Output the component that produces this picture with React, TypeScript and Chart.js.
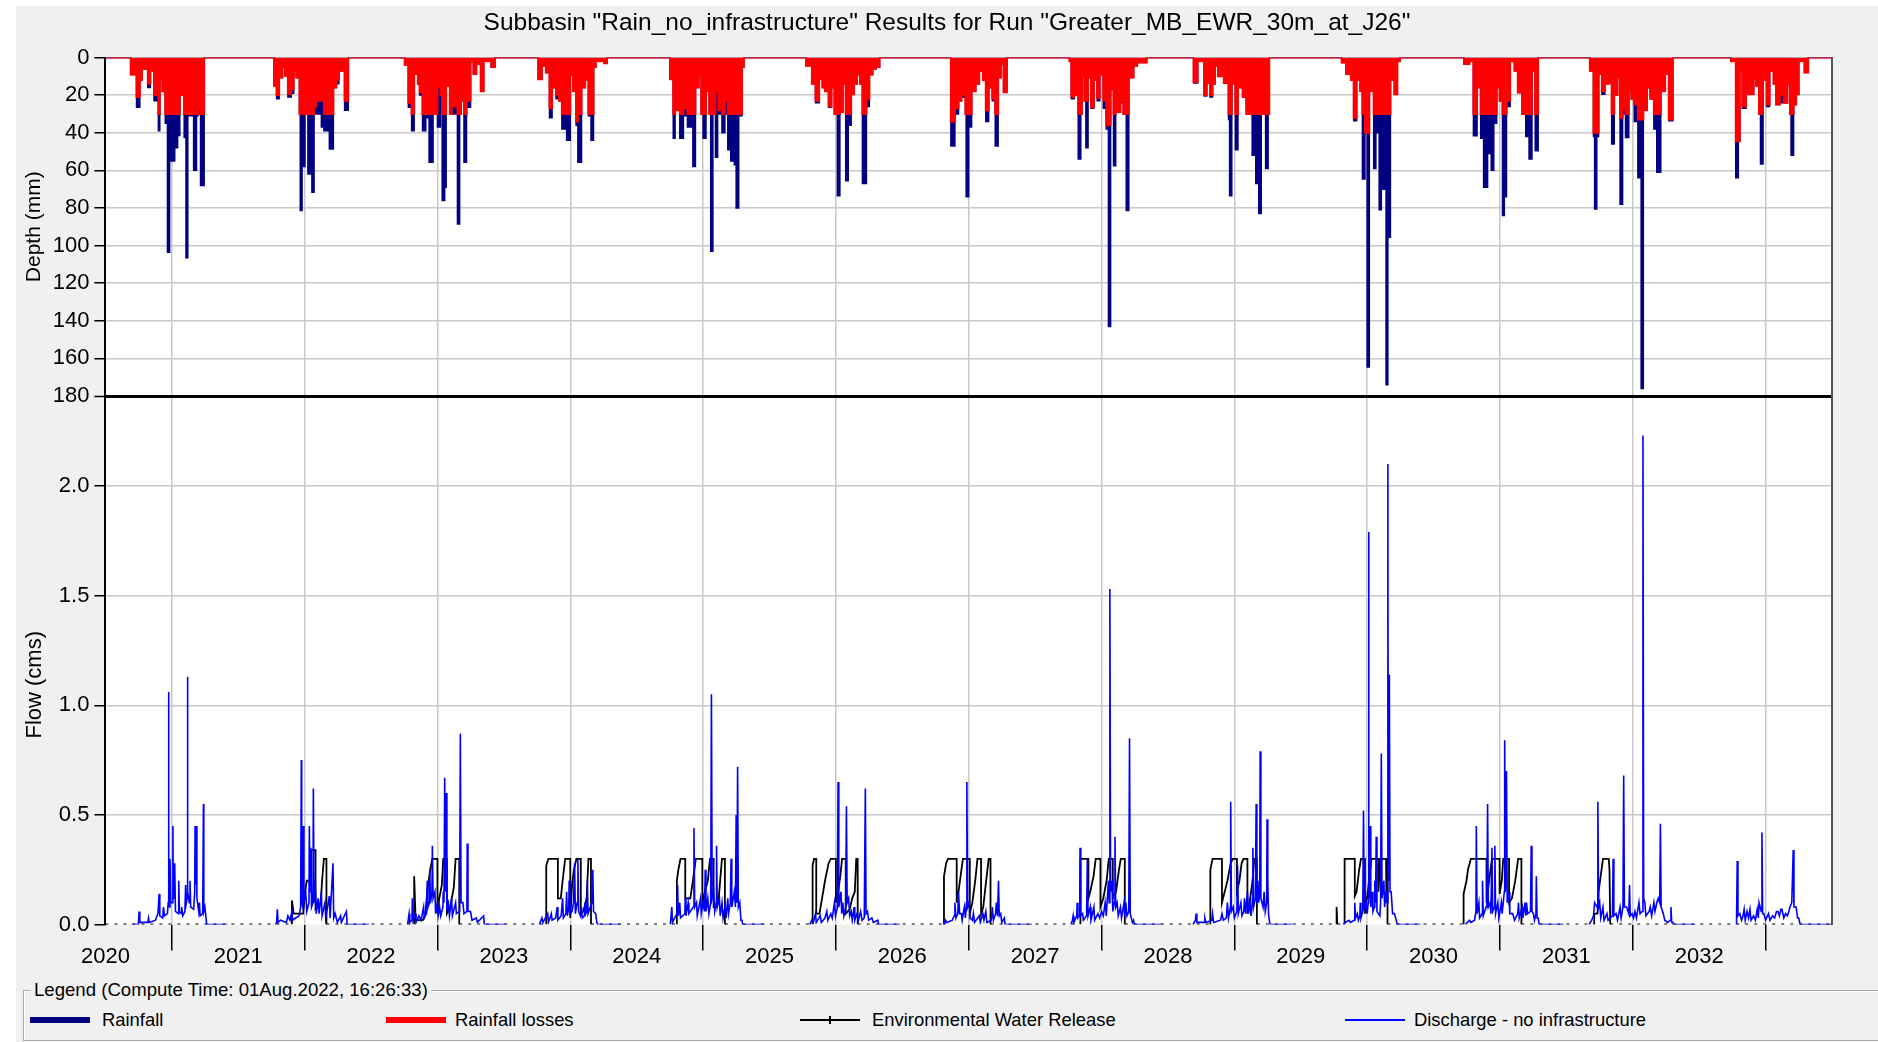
import React, { useEffect, useRef } from 'react';
import { Chart, registerables } from 'chart.js';

Chart.register(...registerables);

const FONT = '"Liberation Sans", Arial, sans-serif';
const TITLE = 'Subbasin "Rain_no_infrastructure" Results for Run "Greater_MB_EWR_30m_at_J26"';
const LEGEND_TITLE = 'Legend (Compute Time: 01Aug.2022, 16:26:33)';

// x axis: decimal years
const X_MIN = 2020.5;
const X_MAX = 2033.5;
const YEAR_BOUNDARIES = [2021, 2022, 2023, 2024, 2025, 2026, 2027, 2028, 2029, 2030, 2031, 2032, 2033];
const YEAR_LABELS = [2020, 2021, 2022, 2023, 2024, 2025, 2026, 2027, 2028, 2029, 2030, 2031, 2032];
const DEPTH_MAX = 180;
const FLOW_MAX = 2.41;

// Each season: [day offset from 1 Jan of the season's year, value]
// Rainfall depth (mm) – stepped values
const rain2021 = [[-113, 9], [-100, 8], [-97, 26.5], [-88, 12], [-82, 6], [-66, 16], [-59, 7], [-49, 23], [-41, 16], [-37, 39], [-33, 11.5], [-26, 18], [-18, 35], [-12, 103.5], [-6, 55], [8, 48], [16, 41.5], [22, 20], [34, 42.5], [39, 106.5], [44, 31], [60, 60], [68, 31], [72, 30], [79, 68], [89, 0]];
const rain2022 = [[-84, 15], [-77, 22], [-70, 10.6], [-61, 5], [-54, 9.7], [-46, 21], [-37, 19], [-30, 7], [-23, 10.6], [-14, 30], [-12, 81.4], [-7, 58], [1, 30], [9, 62], [17, 30], [20, 71.7], [26, 30], [46, 37], [53, 39], [68, 48.7], [79, 16], [87, 14], [94, 7], [105, 5], [110, 28], [120, 0]];
const rain2023 = [[-90, 4], [-80, 26.5], [-71, 39], [-64, 8.8], [-54, 14], [-49, 20], [-41, 39], [-32, 16], [-28, 32], [-23, 55.7], [-12, 22], [-7, 30], [0, 37], [8, 20], [13, 76], [20, 69], [24, 15], [34, 30], [55, 88.5], [61, 30], [65, 23], [73, 55.7], [80, 26.5], [91, 2], [99, 8.8], [107, 3.5], [119, 18], [127, 2], [148, 5], [158, 0]];
const rain2024 = [[-88, 11.5], [-78, 4.4], [-67, 8], [-57, 32], [-50, 16], [-39, 22], [-31, 23], [-23, 38], [-10, 44], [0, 9], [8, 18], [16, 36], [21, 55.7], [31, 16], [41, 12], [50, 31], [57, 44], [64, 5], [70, 2], [93, 3], [101, 0]];
const rain2025 = [[-91, 11.5], [-82, 43], [-77, 28], [-64, 43], [-54, 31], [-43, 37], [-28, 58], [-21, 16], [-12, 10], [-5, 30], [0, 43], [8, 18], [17, 30], [21, 103], [27, 30], [34, 53], [40, 30], [52, 40], [60, 30], [68, 49], [76, 55], [86, 57], [91, 80], [98, 31], [107, 5], [112, 0]];
const rain2026 = [[-82, 4.4], [-66, 14], [-56, 24], [-46, 11.5], [-37, 16], [-30, 18], [-20, 26.5], [-12, 16], [-4, 30], [4, 73.5], [11, 29], [19, 14], [27, 65.5], [34, 36], [42, 19.5], [50, 14], [58, 9], [66, 14], [73, 67], [84, 26], [92, 9], [101, 6], [110, 5], [120, 0]];
const rain2027 = [[-49, 47], [-38, 30], [-28, 23], [-20, 21], [-9, 30], [-7, 74], [0, 37], [8, 18], [19, 14], [29, 7], [39, 12], [47, 34], [55, 16], [65, 23], [73, 47], [81, 10.6], [89, 3.5], [96, 18.5], [105, 0]];
const rain2028 = [[-88, 2], [-83, 22], [-75, 20], [-64, 54], [-57, 30], [-54, 10], [-47, 23], [-43, 48], [-37, 10.6], [-29, 27], [-21, 12], [-12, 23], [-5, 9], [5, 27], [13, 38], [19, 143], [25, 17], [33, 57.5], [39, 29], [52, 24], [60, 30], [68, 81.4], [75, 10.6], [88, 4.4], [98, 2.7], [124, 0]];
const rain2029 = [[-112, 13.5], [-101, 2], [-83, 20.5], [-76, 13.5], [-67, 21], [-60, 14], [-53, 4.4], [-45, 10], [-29, 13.5], [-16, 33], [-13, 73.5], [-7, 14], [3, 49], [10, 16], [23, 21], [33, 30], [49, 52], [59, 67], [67, 83], [74, 30], [86, 59], [93, 30], [96, 0]];
const rain2030 = [[-70, 2.7], [-58, 8.8], [-45, 12], [-37, 33.6], [-29, 12], [-19, 18], [-13, 64.6], [-6, 40], [0, 164.6], [6, 18], [18, 59], [24, 40], [33, 81], [39, 70], [52, 174], [57, 95.6], [64, 12], [75, 19.5], [83, 2], [90, 0]];
const rain2031 = [[-99, 3.5], [-84, 2], [-73, 41.6], [-63, 16], [-53, 43], [-45, 69], [-34, 51], [-24, 60], [-17, 35], [-9, 16], [-1, 23], [7, 84], [12, 74], [18, 26], [28, 2], [40, 7], [49, 18.6], [57, 2], [61, 30], [71, 42], [80, 54], [88, 7], [97, 49.6], [105, 0]];
const rain2032 = [[-118, 7], [-108, 42], [-105, 80.5], [-99, 42], [-94, 8.8], [-85, 19.5], [-77, 14], [-66, 13.5], [-58, 46], [-51, 20], [-42, 10.6], [-35, 78], [-28, 30], [-20, 42.5], [-11, 18], [-4, 22], [4, 34], [14, 64], [23, 176], [29, 28], [39, 16], [48, 22], [58, 38], [66, 61], [77, 18], [89, 8.8], [99, 33.6], [110, 0]];
const rain2033 = [[-95, 2], [-82, 64], [-75, 44.5], [-71, 7], [-64, 27], [-54, 19.5], [-33, 11], [-26, 15], [-18, 30], [-14, 56.6], [-7, 12], [3, 26], [11, 7], [22, 14], [29, 25], [39, 24], [50, 24], [60, 14], [67, 30], [70, 52], [77, 25], [84, 19.5], [91, 2], [107, 8], [117, 0]];

// Rainfall losses (mm) – stepped values
const loss2021 = [[-113, 9], [-100, 8], [-97, 21], [-88, 12], [-82, 6], [-66, 14], [-59, 7], [-49, 20], [-41, 16], [-37, 30], [-33, 11.5], [-26, 18], [-18, 30], [22, 20], [34, 30], [72, 27], [79, 30], [89, 0]];
const loss2022 = [[-84, 15], [-77, 20], [-70, 10.6], [-61, 5], [-54, 9.7], [-46, 19.5], [-37, 17], [-30, 7], [-23, 10.6], [-14, 30], [1, 25], [6, 30], [26, 26], [32, 23], [53, 30], [79, 16], [87, 12], [94, 7], [105, 5], [110, 23], [120, 0]];
const loss2023 = [[-90, 4], [-80, 24], [-71, 30], [-64, 8.8], [-54, 14], [-49, 18.5], [-41, 30], [-32, 16], [-28, 30], [-12, 22], [-7, 30], [0, 16], [8, 20], [13, 30], [24, 15], [34, 30], [39, 26], [55, 30], [65, 23], [73, 30], [80, 23], [91, 2], [99, 8.8], [107, 3.5], [119, 18], [127, 2], [148, 5], [158, 0]];
const loss2024 = [[-88, 11.5], [-78, 4.4], [-67, 8], [-57, 27], [-50, 16], [-39, 19.5], [-31, 23], [-23, 30], [0, 9], [8, 18], [16, 34], [21, 30], [31, 16], [41, 12], [50, 30], [64, 5], [70, 2], [93, 3], [101, 0]];
const loss2025 = [[-91, 11.5], [-82, 30], [-77, 28], [-64, 30], [-54, 27], [-43, 30], [-21, 16], [-12, 10], [-5, 30], [8, 18], [17, 30], [34, 18], [42, 28], [52, 30], [60, 23], [68, 30], [107, 5], [112, 0]];
const loss2026 = [[-82, 4.4], [-66, 14], [-56, 23], [-46, 11.5], [-37, 16], [-30, 18], [-20, 26], [-12, 16], [-4, 30], [11, 29], [19, 14], [27, 30], [42, 19.5], [50, 14], [58, 9], [66, 14], [73, 30], [84, 22], [92, 9], [101, 6], [110, 5], [120, 0]];
const loss2027 = [[-49, 34], [-38, 27], [-28, 23], [-20, 20], [-9, 30], [8, 18], [19, 14], [29, 7], [39, 12], [47, 28], [55, 16], [65, 22], [73, 30], [81, 10.6], [89, 3.5], [96, 18.5], [105, 0]];
const loss2028 = [[-88, 2], [-83, 21], [-75, 20], [-64, 30], [-54, 10], [-47, 23], [-37, 10.6], [-29, 26.5], [-21, 12], [-12, 21.5], [-5, 9], [5, 23], [13, 36], [25, 17], [33, 30], [39, 29], [52, 23], [60, 30], [75, 10.6], [88, 4.4], [98, 2.7], [124, 0]];
const loss2029 = [[-112, 13], [-101, 2], [-83, 20], [-76, 13.5], [-67, 20], [-60, 14], [-53, 4.4], [-45, 10], [-29, 13.5], [-16, 30], [-7, 14], [3, 30], [10, 16], [23, 21], [33, 30], [96, 0]];
const loss2030 = [[-70, 2.7], [-58, 8.8], [-45, 12], [-37, 32], [-29, 12], [-19, 18], [-13, 30], [-6, 40], [6, 18], [18, 30], [57, 30], [64, 12], [75, 19.5], [83, 2], [90, 0]];
const loss2031 = [[-99, 3.5], [-84, 2], [-73, 30], [-63, 16], [-53, 30], [-17, 30], [-9, 16], [-1, 23], [7, 30], [18, 23], [28, 2], [40, 7], [49, 18.6], [57, 2], [61, 30], [88, 7], [97, 30], [105, 0]];
const loss2032 = [[-118, 7], [-108, 40], [-94, 8.8], [-85, 18], [-77, 14], [-66, 13.5], [-58, 30], [-51, 20], [-42, 10.6], [-35, 32], [-28, 27], [-20, 30], [-11, 18], [-4, 22], [4, 25], [14, 33], [29, 28], [39, 16], [48, 22], [58, 30], [77, 18], [89, 8.8], [99, 33], [110, 0]];
const loss2033 = [[-95, 2], [-82, 44.5], [-71, 7], [-64, 26], [-54, 19.5], [-33, 11], [-26, 15], [-18, 30], [-7, 12], [3, 25], [11, 7], [22, 14], [29, 25], [39, 20], [50, 24], [60, 14], [67, 30], [77, 25], [84, 19.5], [91, 2], [107, 8], [117, 0]];

// Discharge - no infrastructure (cms)
const flow2021 = [[-110, 0], [-92, 0], [-90, 0.06], [-88, 0.01], [-66, 0.01], [-64, 0.03], [-62, 0.01], [-45, 0.02], [-38, 0.05], [-35, 0.14], [-33, 0.04], [-25, 0.03], [-23, 0.08], [-20, 0.04], [-12, 0.05], [-10, 0.1], [-9, 1.06], [-8, 0.12], [-6, 0.08], [-5, 0.3], [-3, 0.1], [2, 0.1], [3, 0.45], [4, 0.15], [7, 0.12], [8, 0.28], [10, 0.06], [18, 0.05], [19, 0.2], [21, 0.06], [26, 0.05], [27, 0.08], [30, 0.04], [36, 0.06], [38, 0.18], [40, 0.1], [42, 0.12], [43, 1.13], [44, 0.15], [48, 0.1], [50, 0.2], [52, 0.08], [60, 0.07], [63, 0.15], [64, 0.45], [66, 0.18], [68, 0.45], [69, 0.12], [74, 0.06], [76, 0.1], [78, 0.04], [85, 0.05], [87, 0.55], [88, 0.06], [91, 0.08], [96, 0], [153, 0]];
const flow2022 = [[-80, 0], [-77, 0.01], [-75, 0.07], [-73, 0.01], [-66, 0.02], [-50, 0.01], [-46, 0.04], [-40, 0.02], [-35, 0.06], [-33, 0.02], [-25, 0.03], [-15, 0.04], [-11, 0.08], [-9, 0.75], [-8, 0.1], [-5, 0.08], [-4, 0.45], [-2, 0.1], [3, 0.15], [6, 0.06], [12, 0.1], [13, 0.45], [15, 0.15], [17, 0.35], [19, 0.08], [23, 0.1], [24, 0.62], [26, 0.1], [29, 0.2], [32, 0.05], [37, 0.12], [40, 0.05], [46, 0.15], [48, 0.04], [56, 0.1], [58, 0.03], [68, 0.13], [70, 0.03], [78, 0.28], [80, 0.03], [84, 0.05], [90, 0.01], [99, 0.04], [101, 0.01], [115, 0.06], [117, 0], [177, 0]];
const flow2023 = [[-82, 0], [-78, 0.05], [-76, 0.01], [-70, 0.02], [-69, 0.12], [-67, 0.02], [-61, 0.05], [-59, 0.01], [-51, 0.04], [-45, 0.02], [-38, 0.08], [-36, 0.03], [-30, 0.05], [-28, 0.2], [-26, 0.08], [-22, 0.1], [-21, 0.25], [-19, 0.1], [-15, 0.15], [-14, 0.36], [-12, 0.12], [-7, 0.15], [-5, 0.05], [0, 0.1], [2, 0.04], [6, 0.08], [9, 0.04], [15, 0.08], [16, 0.15], [18, 0.1], [20, 0.67], [22, 0.15], [24, 0.6], [26, 0.08], [30, 0.1], [33, 0.04], [39, 0.12], [41, 0.04], [50, 0.1], [52, 0.05], [61, 0.06], [63, 0.87], [65, 0.1], [70, 0.1], [73, 0.05], [81, 0.06], [82, 0.37], [84, 0.06], [91, 0.06], [95, 0.02], [107, 0.03], [110, 0.01], [127, 0.04], [129, 0], [189, 0]];
const flow2024 = [[-85, 0], [-78, 0.03], [-75, 0.01], [-62, 0.05], [-60, 0.01], [-52, 0.05], [-50, 0.02], [-40, 0.03], [-36, 0.08], [-34, 0.02], [-25, 0.04], [-21, 0.12], [-19, 0.03], [-12, 0.05], [-10, 0.15], [-8, 0.04], [-4, 0.08], [-3, 0.2], [-1, 0.05], [5, 0.06], [9, 0.1], [12, 0.28], [14, 0.05], [19, 0.1], [21, 0.3], [23, 0.06], [28, 0.04], [31, 0.08], [33, 0.03], [39, 0.04], [41, 0.1], [43, 0.05], [46, 0.06], [47, 0.2], [49, 0.05], [55, 0.08], [60, 0.1], [62, 0.25], [64, 0.06], [70, 0.05], [73, 0.01], [76, 0], [140, 0]];
const flow2025 = [[-90, 0], [-86, 0.08], [-84, 0.01], [-72, 0.05], [-70, 0.18], [-68, 0.04], [-64, 0.1], [-62, 0.03], [-50, 0.05], [-49, 0.12], [-47, 0.04], [-41, 0.1], [-39, 0.05], [-27, 0.08], [-25, 0.44], [-23, 0.08], [-18, 0.1], [-16, 0.04], [-7, 0.12], [-5, 0.05], [0, 0.1], [4, 0.06], [6, 0.25], [8, 0.06], [13, 0.12], [16, 0.05], [21, 0.1], [23, 1.05], [25, 0.12], [29, 0.15], [32, 0.06], [36, 0.1], [37, 0.36], [39, 0.08], [45, 0.12], [47, 0.04], [52, 0.1], [55, 0.03], [60, 0.08], [63, 0.03], [68, 0.12], [70, 0.05], [75, 0.1], [77, 0.3], [79, 0.08], [86, 0.15], [89, 0.08], [91, 0.5], [93, 0.1], [95, 0.72], [97, 0.08], [101, 0.1], [104, 0.02], [107, 0.02], [109, 0], [169, 0]];
const flow2026 = [[-72, 0], [-66, 0.02], [-62, 0.01], [-56, 0.05], [-54, 0.01], [-43, 0.04], [-40, 0.01], [-30, 0.03], [-25, 0.06], [-22, 0.02], [-14, 0.05], [-10, 0.03], [-4, 0.1], [-1, 0.04], [4, 0.08], [6, 0.65], [8, 0.08], [14, 0.15], [16, 0.05], [19, 0.1], [22, 0.04], [27, 0.08], [29, 0.54], [31, 0.1], [35, 0.12], [38, 0.04], [42, 0.06], [45, 0.02], [50, 0.08], [52, 0.02], [58, 0.05], [62, 0.02], [68, 0.06], [72, 0.02], [78, 0.03], [81, 0.62], [83, 0.05], [87, 0.06], [90, 0.02], [99, 0.03], [103, 0.01], [115, 0.02], [118, 0], [177, 0]];
const flow2027 = [[-66, 0], [-64, 0.02], [-60, 0.01], [-45, 0.02], [-40, 0.04], [-38, 0.1], [-35, 0.03], [-30, 0.05], [-28, 0.15], [-25, 0.05], [-20, 0.05], [-18, 0.02], [-12, 0.08], [-9, 0.03], [-6, 0.1], [-5, 0.65], [-3, 0.08], [1, 0.1], [4, 0.03], [10, 0.02], [13, 0.05], [16, 0.01], [29, 0.04], [32, 0.01], [39, 0.05], [42, 0.02], [47, 0.06], [50, 0.01], [62, 0.02], [65, 0.08], [68, 0.02], [74, 0.05], [76, 0.1], [79, 0.04], [82, 0.2], [84, 0.04], [88, 0.05], [91, 0.01], [98, 0.03], [100, 0], [174, 0]];
const flow2028 = [[-84, 0], [-80, 0.02], [-78, 0.04], [-76, 0.01], [-68, 0.04], [-67, 0.1], [-65, 0.03], [-60, 0.04], [-59, 0.35], [-57, 0.04], [-52, 0.05], [-50, 0.02], [-41, 0.04], [-39, 0.3], [-37, 0.04], [-31, 0.08], [-29, 0.02], [-21, 0.08], [-19, 0.02], [-10, 0.05], [-5, 0.03], [0, 0.06], [5, 0.04], [10, 0.1], [13, 0.04], [19, 0.2], [21, 0.1], [23, 1.53], [25, 0.15], [29, 0.2], [31, 0.06], [35, 0.1], [37, 0.4], [39, 0.08], [43, 0.1], [46, 0.04], [52, 0.08], [55, 0.03], [62, 0.1], [64, 0.04], [67, 0.1], [70, 0.04], [75, 0.06], [77, 0.85], [79, 0.05], [81, 0.05], [85, 0.01], [88, 0.02], [90, 0], [166, 0]];
const flow2029 = [[-114, 0], [-107, 0.02], [-105, 0.05], [-103, 0.01], [-83, 0.01], [-81, 0.03], [-78, 0.01], [-62, 0.02], [-60, 0.05], [-57, 0.01], [-38, 0.02], [-34, 0.05], [-30, 0.02], [-22, 0.03], [-19, 0.1], [-16, 0.03], [-11, 0.08], [-10, 0.56], [-8, 0.06], [-3, 0.08], [0, 0.03], [7, 0.06], [9, 0.27], [11, 0.05], [18, 0.1], [21, 0.04], [26, 0.06], [28, 0.12], [31, 0.05], [36, 0.15], [39, 0.05], [43, 0.1], [46, 0.04], [50, 0.12], [51, 0.35], [53, 0.08], [58, 0.12], [60, 0.55], [62, 0.1], [65, 0.2], [67, 0.1], [70, 0.15], [71, 0.79], [73, 0.12], [79, 0.08], [82, 0.15], [85, 0.06], [89, 0.1], [90, 0.48], [92, 0.2], [94, 0.05], [97, 0.01], [100, 0], [160, 0]];
const flow2030 = [[-66, 0], [-60, 0.01], [-50, 0.02], [-46, 0.01], [-36, 0.02], [-34, 0.1], [-32, 0.03], [-27, 0.05], [-24, 0.02], [-20, 0.04], [-19, 0.1], [-17, 0.03], [-12, 0.06], [-10, 0.52], [-8, 0.08], [-3, 0.1], [0, 0.05], [3, 0.1], [4, 1.79], [5, 0.2], [7, 0.12], [8, 0.45], [10, 0.08], [14, 0.15], [16, 0.06], [20, 0.08], [21, 0.2], [23, 0.1], [25, 0.4], [27, 0.06], [31, 0.05], [35, 0.04], [37, 0.1], [39, 0.78], [41, 0.12], [46, 0.2], [48, 0.08], [52, 0.15], [55, 0.1], [57, 2.1], [58, 0.3], [60, 0.2], [61, 1.14], [63, 0.15], [66, 0.15], [70, 0.05], [75, 0.05], [80, 0.02], [83, 0], [147, 0]];
const flow2031 = [[-95, 0], [-84, 0.02], [-80, 0.01], [-70, 0.02], [-66, 0.06], [-65, 0.45], [-63, 0.05], [-58, 0.1], [-56, 0.03], [-49, 0.05], [-48, 0.2], [-46, 0.04], [-38, 0.08], [-36, 0.1], [-34, 0.55], [-32, 0.08], [-27, 0.1], [-25, 0.05], [-22, 0.35], [-20, 0.06], [-15, 0.08], [-14, 0.36], [-12, 0.05], [-6, 0.1], [-3, 0.03], [4, 0.1], [6, 0.05], [12, 0.15], [13, 0.84], [15, 0.15], [18, 0.7], [20, 0.1], [25, 0.15], [27, 0.05], [35, 0.05], [40, 0.02], [49, 0.05], [51, 0.1], [53, 0.03], [61, 0.08], [63, 0.03], [69, 0.1], [71, 0.04], [73, 0.1], [76, 0.05], [84, 0.06], [86, 0.36], [88, 0.06], [92, 0.05], [95, 0.02], [99, 0.05], [100, 0.22], [102, 0.03], [105, 0.03], [108, 0], [175, 0]];
const flow2032 = [[-120, 0], [-113, 0.02], [-108, 0.04], [-105, 0.1], [-98, 0.08], [-96, 0.56], [-94, 0.08], [-91, 0.1], [-88, 0.03], [-82, 0.08], [-79, 0.02], [-71, 0.05], [-68, 0.02], [-56, 0.04], [-54, 0.3], [-52, 0.04], [-46, 0.05], [-42, 0.02], [-35, 0.08], [-32, 0.03], [-27, 0.08], [-25, 0.68], [-23, 0.08], [-17, 0.08], [-11, 0.05], [-9, 0.18], [-7, 0.04], [-2, 0.05], [2, 0.03], [6, 0.06], [10, 0.03], [17, 0.1], [20, 0.05], [26, 0.06], [28, 2.23], [30, 0.12], [33, 0.1], [36, 0.04], [45, 0.06], [48, 0.08], [52, 0.04], [58, 0.1], [61, 0.06], [66, 0.1], [70, 0.12], [74, 0.1], [76, 0.46], [78, 0.08], [84, 0.05], [88, 0.02], [96, 0.01], [103, 0.02], [105, 0.08], [107, 0.01], [110, 0.01], [112, 0], [172, 0]];
const flow2033 = [[-80, 0], [-78, 0.29], [-76, 0.04], [-71, 0.05], [-66, 0.02], [-62, 0.04], [-59, 0.07], [-56, 0.02], [-51, 0.06], [-47, 0.03], [-43, 0.07], [-40, 0.02], [-33, 0.04], [-28, 0.02], [-23, 0.07], [-20, 0.03], [-18, 0.1], [-12, 0.06], [-10, 0.42], [-8, 0.05], [-5, 0.05], [0, 0.02], [8, 0.05], [12, 0.02], [19, 0.04], [25, 0.03], [30, 0.06], [34, 0.06], [38, 0.04], [42, 0.07], [45, 0.07], [50, 0.03], [55, 0.05], [60, 0.04], [64, 0.06], [67, 0.08], [72, 0.1], [76, 0.34], [78, 0.08], [84, 0.08], [88, 0.03], [91, 0.03], [94, 0.01], [96, 0], [181, 0]];

// Environmental Water Release (cms)
const env2022 = [[-35, 0], [-35, 0.11], [-30, 0.05], [-4, 0.05], [1, 0.15], [6, 0.2], [17, 0.2], [18, 0.34], [30, 0.34], [30, 0.07], [44, 0.09], [48, 0.2], [53, 0.3], [60, 0.3], [60, 0]];
const env2023 = [[-64, 0], [-64, 0.22], [-60, 0.02], [-40, 0.02], [-33, 0.05], [-28, 0.15], [-20, 0.25], [-14, 0.3], [0, 0.3], [0, 0.05], [5, 0.12], [12, 0.18], [16, 0.3], [26, 0.3], [26, 0.05], [35, 0.08], [45, 0.17], [50, 0.3], [60, 0.3], [60, 0]];
const env2024 = [[-66, 0], [-66, 0.27], [-60, 0.3], [-34, 0.3], [-34, 0.12], [-26, 0.12], [-21, 0.2], [-14, 0.3], [0, 0.3], [0, 0.03], [5, 0.18], [10, 0.25], [17, 0.3], [29, 0.3], [29, 0.05], [36, 0.06], [45, 0.12], [50, 0.3], [57, 0.3], [57, 0]];
const env2025 = [[-72, 0], [-72, 0.2], [-68, 0.25], [-62, 0.3], [-49, 0.3], [-49, 0.12], [-35, 0.12], [-28, 0.2], [-20, 0.3], [-2, 0.3], [-2, 0.1], [5, 0.15], [13, 0.2], [19, 0.3], [29, 0.3], [29, 0.08], [36, 0.08], [42, 0.1], [46, 0.18], [52, 0.3], [60, 0.3], [60, 0]];
const env2026 = [[-64, 0], [-64, 0.27], [-60, 0.3], [-54, 0.3], [-54, 0.05], [-45, 0.05], [-40, 0.1], [-30, 0.2], [-20, 0.28], [-14, 0.3], [0, 0.3], [0, 0.1], [6, 0.15], [12, 0.22], [17, 0.3], [27, 0.3], [27, 0.05], [38, 0.07], [45, 0.12], [52, 0.15], [56, 0.3], [60, 0.3], [60, 0]];
const env2027 = [[-70, 0], [-68, 0.22], [-62, 0.28], [-57, 0.3], [-33, 0.3], [-33, 0.1], [-28, 0.15], [-20, 0.25], [-16, 0.3], [3, 0.3], [3, 0.05], [10, 0.1], [18, 0.2], [24, 0.3], [34, 0.3], [34, 0.05], [40, 0.08], [48, 0.2], [55, 0.3], [60, 0.3], [60, 0]];
const env2028 = [[-58, 0], [-58, 0.3], [-36, 0.3], [-36, 0.12], [-31, 0.15], [-22, 0.22], [-16, 0.3], [-3, 0.3], [-3, 0.08], [5, 0.12], [14, 0.2], [20, 0.3], [31, 0.3], [31, 0.12], [40, 0.15], [48, 0.25], [53, 0.3], [64, 0.3], [64, 0]];
const env2029 = [[-66, 0], [-66, 0.25], [-60, 0.3], [-34, 0.3], [-34, 0.1], [-28, 0.14], [-19, 0.2], [-10, 0.28], [-4, 0.3], [7, 0.3], [7, 0.15], [14, 0.2], [20, 0.28], [25, 0.3], [36, 0.3], [36, 0.05], [42, 0.1], [50, 0.2], [55, 0.3], [62, 0.3], [62, 0]];
const env2030 = [[-84, 0], [-84, 0.08], [-82, 0], [-62, 0], [-62, 0.3], [-34, 0.3], [-34, 0.13], [-29, 0.15], [-22, 0.25], [-17, 0.3], [-6, 0.3], [-6, 0.05], [2, 0.15], [8, 0.25], [12, 0.3], [31, 0.3], [31, 0.15], [36, 0.3], [52, 0.3], [52, 0.1], [54, 0.3], [56, 0.3], [56, 0]];
const env2031 = [[-100, 0], [-100, 0.14], [-92, 0.2], [-88, 0.25], [-80, 0.3], [-37, 0.3], [-37, 0.1], [-30, 0.2], [-22, 0.3], [-1, 0.3], [-1, 0.14], [5, 0.2], [9, 0.3], [25, 0.3], [25, 0.1], [33, 0.12], [42, 0.2], [50, 0.3], [59, 0.3], [59, 0]];
const env2032 = [[-106, 0], [-106, 0.05], [-97, 0.05], [-94, 0.15], [-90, 0.2], [-86, 0.25], [-82, 0.3], [-66, 0.3], [-64, 0.25], [-62, 0]];

const RAIN = [[2021, rain2021], [2022, rain2022], [2023, rain2023], [2024, rain2024], [2025, rain2025], [2026, rain2026], [2027, rain2027], [2028, rain2028], [2029, rain2029], [2030, rain2030], [2031, rain2031], [2032, rain2032], [2033, rain2033]];
const LOSS = [[2021, loss2021], [2022, loss2022], [2023, loss2023], [2024, loss2024], [2025, loss2025], [2026, loss2026], [2027, loss2027], [2028, loss2028], [2029, loss2029], [2030, loss2030], [2031, loss2031], [2032, loss2032], [2033, loss2033]];
const FLOW = [[2021, flow2021], [2022, flow2022], [2023, flow2023], [2024, flow2024], [2025, flow2025], [2026, flow2026], [2027, flow2027], [2028, flow2028], [2029, flow2029], [2030, flow2030], [2031, flow2031], [2032, flow2032], [2033, flow2033]];
const ENV = [[2022, env2022], [2023, env2023], [2024, env2024], [2025, env2025], [2026, env2026], [2027, env2027], [2028, env2028], [2029, env2029], [2030, env2030], [2031, env2031], [2032, env2032]];

const DAYS_PER_YEAR = 365.25;

function toXY(year: number, arr: number[][]) {
  return arr.map(([d, v]) => ({ x: year + d / DAYS_PER_YEAR, y: v }));
}

function continuousSeries(list: any[]) {
  const pts: any[] = [{ x: X_MIN, y: 0 }];
  for (const [year, arr] of list) pts.push(...toXY(year, arr));
  pts.push({ x: X_MAX, y: 0 });
  return pts;
}

function gappedSeries(list: any[]) {
  const pts: any[] = [];
  for (const [year, arr] of list) {
    const seg = toXY(year, arr);
    if (pts.length) pts.push({ x: (pts[pts.length - 1].x + seg[0].x) / 2, y: null });
    pts.push(...seg);
  }
  return pts;
}

const isYear = (v: number) => Math.abs(v - Math.round(v)) < 1e-6;

const plotBackground = {
  id: 'plotBackground',
  beforeDraw(chart: any) {
    const { ctx, chartArea: a } = chart;
    ctx.save();
    ctx.fillStyle = '#ffffff';
    ctx.fillRect(a.left, a.top, a.width, a.height);
    ctx.restore();
  },
};

const CANVAS_W = 1862;
const CANVAS_H = 960;
const AXIS_W = 89.4;
const RIGHT_W = 46;
const X_AXIS_H = 41.4;

export default function App() {
  const ref = useRef<HTMLCanvasElement>(null);

  useEffect(() => {
    document.body.style.margin = '0';
    const canvas = ref.current;
    if (!canvas) return;
    const tickFont = { family: FONT, size: 22 };
    const chart = new Chart(canvas, {
      type: 'line',
      data: {
        datasets: [
          {
            label: 'Rainfall losses',
            data: continuousSeries(LOSS),
            yAxisID: 'yDepth',
            stepped: true,
            fill: 'origin',
            borderColor: '#ff0000',
            backgroundColor: '#ff0000',
            borderWidth: 2,
            pointRadius: 0,
            order: 1,
          },
          {
            label: 'Rainfall',
            data: continuousSeries(RAIN),
            yAxisID: 'yDepth',
            stepped: true,
            fill: 'origin',
            borderColor: '#000080',
            backgroundColor: '#000080',
            borderWidth: 1.5,
            pointRadius: 0,
            order: 2,
          },
          {
            label: 'Discharge - no infrastructure',
            data: gappedSeries(FLOW),
            yAxisID: 'yFlow',
            borderColor: '#0000ff',
            backgroundColor: '#0000ff',
            borderWidth: 1.6,
            pointRadius: 0,
            spanGaps: false,
            fill: false,
            order: 3,
          },
          {
            label: 'Environmental Water Release',
            data: continuousSeries(ENV),
            yAxisID: 'yFlow',
            borderColor: '#000000',
            backgroundColor: '#000000',
            borderWidth: 1.8,
            pointRadius: 0,
            fill: false,
            order: 4,
            segment: {
              borderDash: (c: any) => (c.p0.parsed.y === 0 && c.p1.parsed.y === 0 ? [3, 6] : undefined),
              borderWidth: (c: any) => (c.p0.parsed.y === 0 && c.p1.parsed.y === 0 ? 2.4 : undefined),
            },
          },
        ],
      },
      plugins: [plotBackground],
      options: {
        animation: false,
        responsive: false,
        devicePixelRatio: 1,
        layout: { padding: { left: 0, right: 0, top: 0, bottom: 0 } },
        plugins: {
          legend: { display: false },
          tooltip: { enabled: false },
          title: {
            display: true,
            text: TITLE,
            color: '#000',
            font: { family: FONT, size: 24.5, weight: 'normal' },
            padding: { top: 2.3, bottom: 19.8 },
          },
        },
        scales: {
          x: {
            type: 'linear',
            min: X_MIN,
            max: X_MAX,
            afterBuildTicks: (axis: any) => {
              const vals = [...YEAR_LABELS.map((y) => y + 0.5), ...YEAR_BOUNDARIES].sort((a, b) => a - b);
              axis.ticks = vals.map((value) => ({ value }));
            },
            afterFit: (axis: any) => {
              axis.height = X_AXIS_H;
            },
            ticks: {
              autoSkip: false,
              maxRotation: 0,
              minRotation: 0,
              padding: -7,
              color: '#000',
              font: tickFont,
              callback: (v: any) => {
                const n = Number(v);
                return isYear(n) ? '' : String(Math.floor(n));
              },
            },
            grid: {
              color: (c: any) => (c.tick && isYear(c.tick.value) ? '#c8c8c8' : 'rgba(0,0,0,0)'),
              tickColor: (c: any) => (c.tick && isYear(c.tick.value) ? '#000' : 'rgba(0,0,0,0)'),
              lineWidth: 1.5,
              tickWidth: 1.5,
              tickLength: 26,
            },
            border: { display: false },
          },
          yFlow: {
            type: 'linear',
            position: 'left',
            stack: 'panels',
            stackWeight: 528.6,
            min: 0,
            max: FLOW_MAX,
            afterFit: (axis: any) => {
              axis.width = AXIS_W;
            },
            ticks: {
              stepSize: 0.5,
              autoSkip: false,
              includeBounds: false,
              padding: 5,
              color: '#000',
              font: tickFont,
              callback: (v: any) => Number(v).toFixed(1),
            },
            grid: {
              color: (c: any) => (c.tick && c.tick.value === 0 ? 'rgba(0,0,0,0)' : '#c8c8c8'),
              lineWidth: 1.5,
              tickColor: '#000',
              tickLength: 11,
              tickWidth: 1.5,
            },
            border: { color: '#000', width: 2 },
            title: {
              display: true,
              text: 'Flow (cms)\u00a0\u00a0\u00a0\u00a0\u00a0\u00a0\u00a0\u00a0',
              color: '#000',
              font: { family: FONT, size: 22 },
              padding: { top: 6, bottom: 0 },
            },
          },
          yDepth: {
            type: 'linear',
            position: 'left',
            stack: 'panels',
            stackWeight: 338.5,
            reverse: true,
            min: 0,
            max: DEPTH_MAX,
            afterFit: (axis: any) => {
              axis.width = AXIS_W;
            },
            ticks: {
              stepSize: 20,
              autoSkip: false,
              padding: 5,
              color: '#000',
              font: tickFont,
            },
            grid: {
              color: (c: any) => (c.tick && c.tick.value === DEPTH_MAX ? '#000' : '#c8c8c8'),
              lineWidth: (c: any) => (c.tick && c.tick.value === DEPTH_MAX ? 3 : 1.5),
              tickColor: '#000',
              tickLength: 11,
              tickWidth: 1.5,
            },
            border: { color: '#000', width: 2 },
            title: {
              display: true,
              text: 'Depth (mm)',
              color: '#000',
              font: { family: FONT, size: 21 },
              padding: { top: 6, bottom: 0 },
            },
          },
          yFrame: {
            type: 'linear',
            position: 'right',
            display: true,
            ticks: { display: false },
            grid: { drawOnChartArea: false, drawTicks: false },
            border: { color: '#555', width: 2 },
            afterFit: (axis: any) => {
              axis.width = RIGHT_W;
            },
          },
        },
      },
    } as any);
    return () => chart.destroy();
  }, []);

  const legendText: React.CSSProperties = {
    position: 'absolute',
    top: 1009,
    fontSize: 18.4,
    lineHeight: '22px',
    color: '#000',
    whiteSpace: 'nowrap',
  };

  return (
    <div
      style={{
        position: 'absolute',
        left: 0,
        top: 0,
        width: 1878,
        height: 1042,
        background: '#ffffff',
        overflow: 'hidden',
        fontFamily: FONT,
      }}
    >
      <div style={{ position: 'absolute', left: 16, top: 6, right: 0, bottom: 0, background: '#f0f0f0' }} />
      <canvas
        ref={ref}
        width={CANVAS_W}
        height={CANVAS_H}
        style={{ position: 'absolute', left: 16, top: 6, width: CANVAS_W, height: CANVAS_H }}
      />
      <div
        style={{
          position: 'absolute',
          left: 23,
          top: 990,
          width: 1900,
          height: 49,
          border: '1px solid #a9a9a9',
          boxShadow: 'inset 1px 1px 0 #ffffff',
        }}
      />
      <span
        style={{
          position: 'absolute',
          left: 31,
          top: 979,
          padding: '0 3px',
          background: '#f0f0f0',
          fontSize: 18.6,
          lineHeight: '22px',
          color: '#000',
          whiteSpace: 'nowrap',
        }}
      >
        {LEGEND_TITLE}
      </span>
      <div style={{ position: 'absolute', left: 30, top: 1017, width: 60, height: 6, background: '#000080' }} />
      <span style={{ ...legendText, left: 102 }}>Rainfall</span>
      <div style={{ position: 'absolute', left: 386, top: 1017, width: 60, height: 6, background: '#ff0000' }} />
      <span style={{ ...legendText, left: 455 }}>Rainfall losses</span>
      <div style={{ position: 'absolute', left: 800, top: 1019, width: 60, height: 2, background: '#000' }} />
      <div style={{ position: 'absolute', left: 829, top: 1016, width: 2, height: 8, background: '#000' }} />
      <span style={{ ...legendText, left: 872 }}>Environmental Water Release</span>
      <div style={{ position: 'absolute', left: 1345, top: 1019, width: 60, height: 2, background: '#0000ff' }} />
      <span style={{ ...legendText, left: 1414 }}>Discharge - no infrastructure</span>
    </div>
  );
}
